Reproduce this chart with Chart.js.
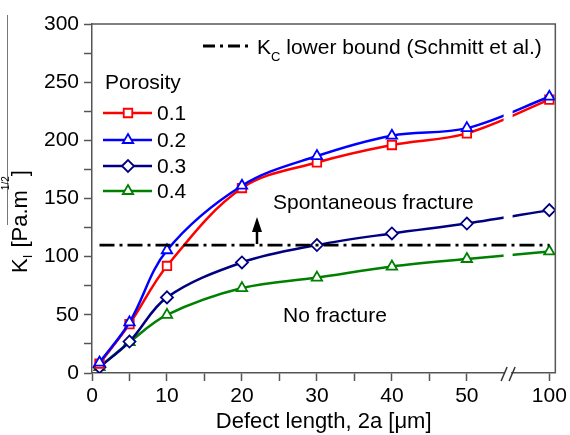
<!DOCTYPE html>
<html>
<head>
<meta charset="utf-8">
<script src="https://cdn.jsdelivr.net/npm/chart.js@4.4.1/dist/chart.umd.min.js"></script>
<style>
  html, body { margin: 0; padding: 0; background: #fff; }
  #wrap { width: 570px; height: 435px; }
</style>
</head>
<body>
<div id="wrap"><canvas id="chart" width="570" height="435"></canvas></div>
<script>
// Data
const defectLength = [1, 5, 10, 20, 30, 40, 50, 100];
const porosity01 = [8, 42, 92, 159, 181, 196, 206, 235];
const porosity02 = [9, 43.5, 105.5, 161, 186.5, 204, 210.5, 237.5];
const porosity03 = [5, 27, 65, 95, 110, 120, 128.5, 140];
const porosity04 = [5, 26.5, 50, 73, 82, 91.5, 98, 104.5];
const kcLowerBound = 110;
const kcRange = [1, 100];

const seriesLabels = ["0.1", "0.2", "0.3", "0.4"];
const xMajorTicks = [0, 10, 20, 30, 40, 50, 100];
const xMinorTicks = [5, 15, 25, 35, 45];
const yTicks = [0, 50, 100, 150, 200, 250, 300];

const FONT = "'Liberation Sans', Arial, sans-serif";
const AXIS_COLOR = "#555";

// broken x axis: 0..50 linear, then squeeze 50..100
function axisPos(v) {
  return v <= 50 ? v : 50 + (v - 50) * 11 / 50;
}
const BREAK_AT = 55.5;

function toPoints(values) {
  return defectLength.map((x, i) => ({ x: axisPos(x), y: values[i] }));
}

const styles = [
  { color: "#ff0000", point: "rect" },
  { color: "#0000ff", point: "triangle" },
  { color: "#000080", point: "rectRot" },
  { color: "#008000", point: "triangle" }
];
const seriesValues = [porosity01, porosity02, porosity03, porosity04];
const drawOrder = [2, 1, 3, 4];

const datasets = seriesValues.map((vals, i) => ({
  label: seriesLabels[i],
  data: toPoints(vals),
  borderColor: styles[i].color,
  backgroundColor: "#fff",
  borderWidth: 2.5,
  pointStyle: styles[i].point,
  pointRadius: 6,
  pointBorderWidth: 1.8,
  pointBackgroundColor: "#fff",
  pointBorderColor: styles[i].color,
  tension: 0.35,
  order: drawOrder[i]
}));

datasets.push({
  label: "Kc",
  data: kcRange.map(x => ({ x: axisPos(x), y: kcLowerBound })),
  borderColor: "#000",
  borderWidth: 2.8,
  borderDash: [15, 5, 3, 5],
  pointRadius: 0,
  order: 0
});
const KC_INDEX = datasets.length - 1;

function drawMarker(ctx, style, x, y, color) {
  ctx.save();
  ctx.strokeStyle = color;
  ctx.fillStyle = "#fff";
  ctx.lineWidth = 1.8;
  Chart.helpers.drawPoint(ctx, { pointStyle: style, radius: 6, rotation: 0, borderWidth: 1.8 }, x, y);
  ctx.restore();
}

const decorations = {
  id: "decorations",
  beforeDatasetDraw(chart, args) {
    // gap in the curves at the axis break (Kc line is drawn after this)
    if (args.index !== KC_INDEX) return;
    const { ctx, chartArea } = chart;
    const bx = chart.scales.x.getPixelForValue(BREAK_AT);
    ctx.save();
    ctx.fillStyle = "#fff";
    ctx.fillRect(bx - 4.5, chartArea.top + 1, 9, chartArea.bottom - chartArea.top - 2);
    ctx.restore();
  },
  afterDraw(chart) {
    const { ctx, chartArea } = chart;
    const { left, right, top, bottom } = chartArea;
    ctx.save();

    // frame top/right
    ctx.strokeStyle = AXIS_COLOR;
    ctx.lineWidth = 1.5;
    ctx.beginPath();
    ctx.moveTo(left, top);
    ctx.lineTo(right, top);
    ctx.lineTo(right, bottom);
    ctx.stroke();

    // axis break mark
    const bx = chart.scales.x.getPixelForValue(BREAK_AT);
    ctx.fillStyle = "#fff";
    ctx.fillRect(bx - 3, bottom - 2, 6, 4);
    ctx.strokeStyle = "#333";
    ctx.lineWidth = 1.5;
    ctx.beginPath();
    ctx.moveTo(bx - 7, bottom + 8); ctx.lineTo(bx - 1, bottom - 6);
    ctx.moveTo(bx + 1, bottom + 8); ctx.lineTo(bx + 7, bottom - 6);
    ctx.stroke();

    // stray vertical rule at the left edge
    ctx.strokeStyle = "#777";
    ctx.lineWidth = 1;
    ctx.beginPath();
    ctx.moveTo(7.5, 15); ctx.lineTo(7.5, 225);
    ctx.stroke();

    // y axis title: K_I [Pa.m^1/2]
    ctx.save();
    ctx.translate(26.5, 273);
    ctx.rotate(-Math.PI / 2);
    ctx.fillStyle = "#000";
    ctx.textBaseline = "alphabetic";
    let px = 0;
    ctx.font = "22px " + FONT;
    ctx.fillText("K", px, 0); px += ctx.measureText("K").width;
    ctx.font = "13px " + FONT;
    ctx.fillText("I", px, 5); px += ctx.measureText("I").width + 1;
    ctx.font = "22px " + FONT;
    ctx.fillText(" [Pa.m", px, 0); px += ctx.measureText(" [Pa.m").width;
    ctx.font = "10px " + FONT;
    ctx.fillText("1/2", px, -18); px += ctx.measureText("1/2").width;
    ctx.font = "22px " + FONT;
    ctx.fillText("]", px, 0);
    ctx.restore();

    // Kc legend
    ctx.strokeStyle = "#000";
    ctx.lineWidth = 2.8;
    ctx.setLineDash([12, 5, 3, 5]);
    ctx.beginPath();
    ctx.moveTo(203, 46); ctx.lineTo(248, 46);
    ctx.stroke();
    ctx.setLineDash([]);
    ctx.fillStyle = "#000";
    ctx.textBaseline = "alphabetic";
    ctx.font = "21px " + FONT;
    let tx = 257;
    ctx.fillText("K", tx, 54); tx += ctx.measureText("K").width;
    ctx.font = "13px " + FONT;
    ctx.fillText("C", tx, 61); tx += ctx.measureText("C").width;
    ctx.font = "21px " + FONT;
    ctx.fillText(" lower bound (Schmitt et al.)", tx, 54);

    // porosity legend
    ctx.fillText("Porosity", 105, 89);
    const rows = [113, 140, 166, 191];
    seriesLabels.forEach((lab, i) => {
      const y = rows[i];
      ctx.strokeStyle = styles[i].color;
      ctx.lineWidth = 2.5;
      ctx.beginPath();
      ctx.moveTo(103, y); ctx.lineTo(152, y);
      ctx.stroke();
      drawMarker(ctx, styles[i].point, 128, y, styles[i].color);
      ctx.fillStyle = "#000";
      ctx.textBaseline = "middle";
      ctx.font = "21px " + FONT;
      ctx.fillText(lab, 157, y + 1);
    });

    // region labels
    ctx.textBaseline = "middle";
    ctx.fillText("Spontaneous fracture", 273, 203);
    ctx.fillText("No fracture", 283, 316);

    // arrow
    ctx.strokeStyle = "#000";
    ctx.lineWidth = 2.5;
    ctx.beginPath();
    ctx.moveTo(257, 244); ctx.lineTo(257, 228);
    ctx.stroke();
    ctx.beginPath();
    ctx.moveTo(257, 217); ctx.lineTo(262, 232); ctx.lineTo(252, 232); ctx.closePath();
    ctx.fill();

    ctx.restore();
  }
};

const ctx = document.getElementById("chart").getContext("2d");
new Chart(ctx, {
  type: "line",
  data: { datasets: datasets },
  options: {
    responsive: false,
    animation: false,
    devicePixelRatio: 1,
    layout: { padding: { left: 0, right: 11, top: 24, bottom: 0 } },
    plugins: { legend: { display: false }, tooltip: { enabled: false } },
    scales: {
      x: {
        type: "linear",
        min: 0,
        max: 61.8,
        afterFit: s => { s.height = 62; },
        afterBuildTicks: s => {
          const vals = xMajorTicks.concat(xMinorTicks).map(axisPos).sort((a, b) => a - b);
          s.ticks = vals.map(v => ({ value: v }));
        },
        ticks: {
          autoSkip: false,
          maxRotation: 0,
          padding: 3,
          color: "#000",
          font: { family: FONT, size: 21 },
          callback: v => {
            const major = xMajorTicks.find(t => Math.abs(axisPos(t) - v) < 1e-6);
            return major === undefined ? "" : String(major);
          }
        },
        grid: { drawOnChartArea: false, tickLength: 8, color: AXIS_COLOR, tickWidth: 1.5 },
        border: { color: AXIS_COLOR, width: 1.5 },
        title: {
          display: true,
          text: "Defect length, 2a [\u03bcm]",
          color: "#000",
          font: { family: FONT, size: 22 },
          padding: { top: 0, bottom: 0 }
        }
      },
      y: {
        min: 0,
        max: 300,
        afterFit: s => { s.width = 92; },
        ticks: {
          stepSize: 25,
          padding: 5,
          color: "#000",
          font: { family: FONT, size: 21 },
          callback: v => (yTicks.includes(v) ? String(v) : "")
        },
        grid: { drawOnChartArea: false, tickLength: 8, color: AXIS_COLOR, tickWidth: 1.5 },
        border: { color: AXIS_COLOR, width: 1.5 }
      }
    }
  },
  plugins: [decorations]
});
</script>
</body>
</html>
